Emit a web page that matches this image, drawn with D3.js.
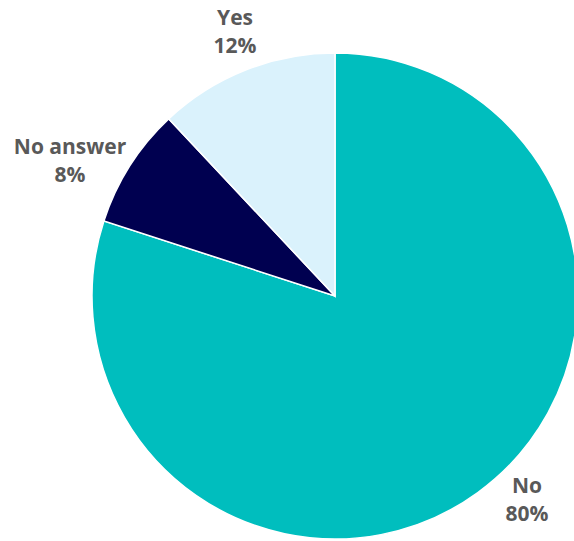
<!DOCTYPE html>
<html>
<head>
<meta charset="utf-8">
<script src="https://cdn.jsdelivr.net/npm/d3@7"></script>
<style>
  body { margin: 0; background: #fff; }
  svg text { font-family: "Open Sans", sans-serif; font-weight: 700; fill: #595959; }
</style>
</head>
<body>
<svg id="chart" width="574" height="541"></svg>
<script>
// slice data, clockwise from 12 o'clock
const categories = ["No", "No answer", "Yes"];
const values = [80, 8, 12];
const colors = ["#00BEBE", "#000050", "#DAF2FC"];
// label positions relative to pie centre (label anchors)
const labelSpots = [[192, 197], [-265, -142], [-100, -271]];

const svg = d3.select("#chart");
const cx = 335, cy = 296, radius = 243;

const pie = d3.pie().sort(null).value(d => d)(values);
const arc = d3.arc().innerRadius(0).outerRadius(radius);

const g = svg.append("g").attr("transform", `translate(${cx},${cy})`);

g.selectAll("path")
  .data(pie)
  .join("path")
  .attr("d", arc)
  .attr("fill", (d, i) => colors[i])
  .attr("stroke", "#fff")
  .attr("stroke-width", 1.5);

// labels: name on first line, percent on second
const labels = g.selectAll("text.lbl")
  .data(pie)
  .join("text")
  .attr("class", "lbl")
  .attr("text-anchor", "middle")
  .style("font-size", "21px")
  .attr("x", (d, i) => labelSpots[i][0])
  .attr("y", (d, i) => labelSpots[i][1]);

labels.append("tspan")
  .attr("x", (d, i) => labelSpots[i][0])
  .text((d, i) => categories[i]);
labels.append("tspan")
  .attr("x", (d, i) => labelSpots[i][0])
  .attr("dy", 28)
  .text(d => d.data + "%");
</script>
</body>
</html>
